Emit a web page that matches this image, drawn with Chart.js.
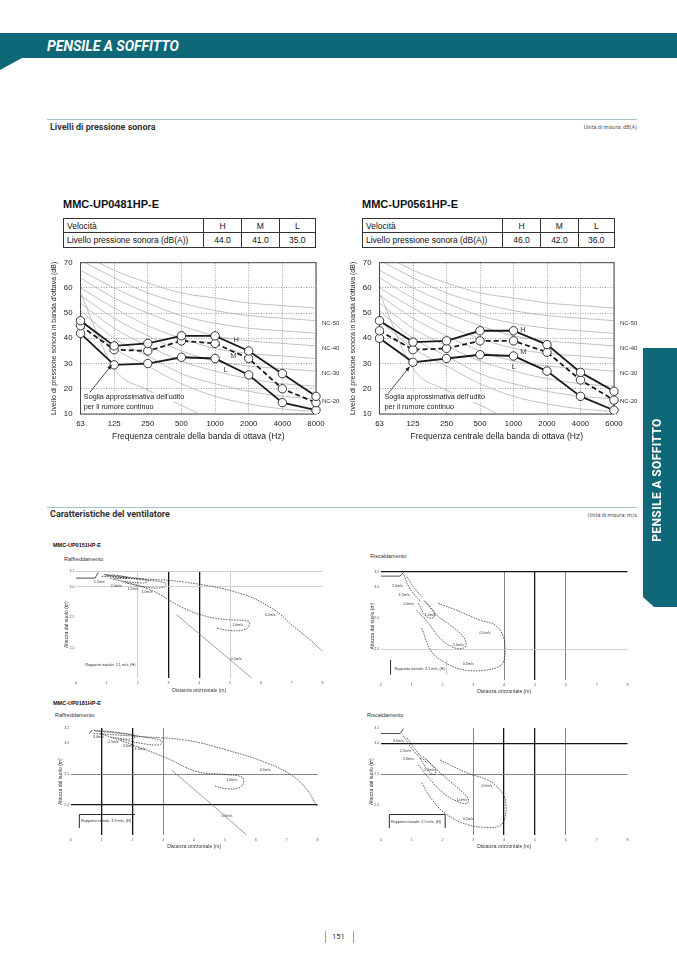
<!DOCTYPE html>
<html>
<head>
<meta charset="utf-8">
<script src="https://cdn.jsdelivr.net/npm/chart.js"></script>
<style>
  body { margin:0; width:677px; height:958px; position:relative; overflow:hidden; background:#fff;
         font-family:"Liberation Sans", Arial, sans-serif; color:#222; }
  .abs { position:absolute; white-space:nowrap; }
  canvas { position:absolute; }
  .bar { left:0; top:33px; width:677px; height:25px; background:#0e6878; }
  .corner { left:0; top:58px; width:0; height:0; border-top:12px solid #0e6878; border-right:22px solid transparent; }
  .hdr { left:47px; top:38px; font:italic 700 14px Roboto, sans-serif; color:#fff; line-height:16px; }
  .rule { left:47px; width:590px; height:1px; background:#a9c3ce; }
  .sec { left:50px; font:700 9px Roboto, sans-serif; color:#333; line-height:11px; }
  .unit { right:40px; font:5.5px Roboto, sans-serif; color:#555; line-height:7px; }
  .model { font:700 11px "Liberation Sans", Arial, sans-serif; line-height:12px; color:#111; }
  table.spl { position:absolute; border-collapse:collapse; width:253px; font-size:8.5px; color:#111; }
  table.spl td { border:1px solid #333; height:13.3px; padding:0; text-align:center; }
  table.spl td.lab { text-align:left; padding-left:3px; }
  .tab { left:643px; top:348px; width:34px; height:259px; background:#0e6878;
         clip-path:polygon(0 0,100% 0,100% 100%,11px 100%,0 calc(100% - 10px)); }
  .tabtxt { left:657px; top:480px; transform:translate(-50%,-50%) rotate(-90deg);
            font:700 12px Roboto, sans-serif; color:#fff; letter-spacing:0.4px; }
  .fmodel { font:700 5.5px "Liberation Sans", Arial, sans-serif; color:#111; line-height:7px; }
  .fmode { font:5.5px "Liberation Sans", Arial, sans-serif; color:#333; line-height:7px; }
  .pg { left:332px; top:932px; font:7.5px Roboto, sans-serif; color:#333; line-height:10px; }
  .pbar { top:931px; width:1px; height:12px; background:#d58d8d; }
</style>
</head>
<body>
<div class="abs bar"></div>
<div class="abs corner"></div>
<div class="abs hdr">PENSILE A SOFFITTO</div>

<div class="abs rule" style="top:119px"></div>
<div class="abs sec" style="top:121.5px">Livelli di pressione sonora</div>
<div class="abs unit" style="top:124px">Unità di misura: dB(A)</div>

<div class="abs model" style="left:63px;top:198px">MMC-UP0481HP-E</div>
<div class="abs model" style="left:362px;top:198px">MMC-UP0561HP-E</div>
<table class="spl" id="tab1" style="left:63px;top:218px"></table>
<table class="spl" id="tab2" style="left:362px;top:218px"></table>
<canvas id="noise1" width="310" height="195" style="left:40px;top:250px"></canvas>
<canvas id="noise2" width="310" height="195" style="left:339px;top:250px"></canvas>

<div class="abs rule" style="top:507px"></div>
<div class="abs sec" style="top:509px">Caratteristiche del ventilatore</div>
<div class="abs unit" style="top:512px">Unità di misura: m/s</div>

<div class="abs fmodel" style="left:53px;top:541.5px">MMC-UP0151HP-E</div>
<div class="abs fmode" style="left:64px;top:555.5px">Raffreddamento</div>
<div class="abs fmode" style="left:370px;top:552.5px">Riscaldamento</div>
<div class="abs fmodel" style="left:53px;top:700px">MMC-UP0181HP-E</div>
<div class="abs fmode" style="left:55px;top:712px">Raffreddamento</div>
<div class="abs fmode" style="left:367px;top:712px">Riscaldamento</div>
<canvas id="fanA" width="270" height="132" style="left:60px;top:565px"></canvas>
<canvas id="fanB" width="270" height="132" style="left:365px;top:565px"></canvas>
<canvas id="fanC" width="270" height="132" style="left:55px;top:722px"></canvas>
<canvas id="fanD" width="270" height="132" style="left:365px;top:722px"></canvas>

<div class="abs tab"></div>
<div class="abs tabtxt">PENSILE A SOFFITTO</div>

<div class="abs pbar" style="left:325px"></div>
<div class="abs pg">151</div>
<div class="abs pbar" style="left:353px"></div>

<script>
// ---- sound pressure data ----
var speeds = ['H', 'M', 'L'];
var dbaUP0481 = ['44.0', '41.0', '35.0'];
var dbaUP0561 = ['46.0', '42.0', '36.0'];

var freq1 = ['63', '125', '250', '500', '1000', '2000', '4000', '8000'];
var freq2 = ['63', '125', '250', '500', '1000', '2000', '4000', '6000'];

var up0481H = [47, 37, 38, 41, 41, 35, 26, 17];
var up0481M = [45, 35.5, 35, 39, 38, 32, 20, 14.5];
var up0481L = [42, 29.5, 30, 32.5, 32, 25.5, 14.5, 11.5];

var up0561H = [47, 38.5, 39, 43, 43, 37.5, 26.5, 19];
var up0561M = [43, 35.5, 36, 39, 39, 34.5, 23.5, 15.5];
var up0561L = [40, 30.5, 32, 33.5, 33, 27, 17, 11.5];

// NC reference curves
var nc15 = [47, 36, 29, 22, 17, 14, 12, 11];
var nc20 = [51, 40, 33, 26, 22, 19, 17, 16];
var nc25 = [54, 44, 37, 31, 27, 24, 22, 21];
var nc30 = [57, 48, 41, 35, 31, 29, 28, 27];
var nc35 = [60, 52, 45, 40, 36, 34, 33, 32];
var nc40 = [64, 56, 50, 45, 41, 39, 38, 37];
var nc45 = [67, 60, 54, 49, 46, 44, 43, 42];
var nc50 = [71, 64, 58, 54, 51, 49, 48, 47];
var nc55 = [74, 67, 62, 58, 56, 54, 53, 52];
var hearingLimit = [58, 28, 19.5, 13.5, 7, 2, 0, 0];

var ncNames = ['NC-50', 'NC-40', 'NC-30', 'NC-20'];
var ncLevels = [46, 36, 26, 15];

// ---- fan data (m) ----
var fanXTicks = [0, 1, 2, 3, 4, 5, 6, 7, 8];
var fanYTicks = [2.0, 2.5, 3.0, 3.25];

var a_unit = [{x:0,y:3.14},{x:0.62,y:3.14},{x:0.72,y:3.23}];
var a_v05 = [{x:0.83,y:3.17},{x:2.08,y:3.13},{x:3.59,y:3.07},{x:5.32,y:2.89},{x:6.4,y:2.63},{x:7.05,y:2.35},{x:7.59,y:2.13},{x:8.0,y:1.94}];
var a_v10 = [{x:1.1,y:3.14},{x:2.4,y:2.95},{x:3.48,y:2.65},{x:4.24,y:2.51},{x:4.89,y:2.46},{x:5.59,y:2.43},{x:5.62,y:2.36},{x:5.45,y:2.29},{x:4.99,y:2.28},{x:4.56,y:2.32}];
var a_v15 = [{x:1.0,y:3.18},{x:2.0,y:3.12},{x:2.9,y:3.06},{x:2.85,y:2.99},{x:2.3,y:2.99},{x:1.6,y:3.06}];
var a_v20 = [{x:0.95,y:3.19},{x:1.8,y:3.15},{x:2.35,y:3.1},{x:2.2,y:3.06},{x:1.5,y:3.09}];
var a_v25 = [{x:0.9,y:3.2},{x:1.4,y:3.18},{x:1.7,y:3.14},{x:1.2,y:3.13}];
var a_low = [{x:3.26,y:2.54},{x:5.7,y:1.5}];

var b_unit = [{x:0,y:3.18},{x:0.63,y:3.18},{x:0.74,y:3.24}];
var b_v05 = [{x:1.87,y:2.74},{x:2.46,y:2.63},{x:3.22,y:2.47},{x:3.71,y:2.39},{x:3.98,y:2.2},{x:4.03,y:1.99},{x:4.0,y:1.83},{x:3.87,y:1.73},{x:3.33,y:1.66},{x:2.68,y:1.67},{x:2.14,y:1.77},{x:1.65,y:1.96},{x:1.33,y:2.34}];
var b_v10 = [{x:1.17,y:2.63},{x:1.55,y:2.42},{x:1.92,y:2.18},{x:2.36,y:2.03},{x:2.68,y:2.02},{x:2.77,y:2.1},{x:2.63,y:2.23},{x:2.25,y:2.39},{x:1.82,y:2.55},{x:1.44,y:2.77}];
var b_v15 = [{x:1.22,y:2.74},{x:1.44,y:2.55},{x:1.65,y:2.5},{x:1.76,y:2.55},{x:1.65,y:2.66},{x:1.38,y:2.8}];
var b_v20 = [{x:0.75,y:3.2},{x:0.92,y:3.0},{x:1.2,y:2.82},{x:1.32,y:2.76}];
var b_v25 = [{x:0.85,y:3.17},{x:1.1,y:2.98},{x:1.35,y:2.85}];

var c_unit = [{x:0.6,y:3.16},{x:0.7,y:3.22}];
var c_v05 = [{x:0.74,y:3.16},{x:2.25,y:3.11},{x:3.76,y:3.05},{x:5.06,y:2.89},{x:6.36,y:2.68},{x:7.22,y:2.46},{x:7.65,y:2.25},{x:7.98,y:1.98}];
var c_v10 = [{x:0.95,y:3.16},{x:2.03,y:2.97},{x:3.11,y:2.76},{x:4.09,y:2.54},{x:5.06,y:2.49},{x:5.55,y:2.45},{x:5.6,y:2.35},{x:5.44,y:2.27},{x:5.06,y:2.26},{x:4.63,y:2.31}];
var c_v15 = [{x:0.8,y:3.2},{x:1.6,y:3.16},{x:2.3,y:3.11},{x:2.95,y:3.04},{x:2.9,y:2.98},{x:2.4,y:2.99},{x:1.6,y:3.07}];
var c_v20 = [{x:0.75,y:3.21},{x:1.5,y:3.18},{x:2.1,y:3.12},{x:1.9,y:3.07},{x:1.3,y:3.1}];
var c_low = [{x:3.28,y:2.56},{x:4.63,y:1.98},{x:5.69,y:1.51}];

var d_unit = [{x:0,y:3.16},{x:0.63,y:3.16},{x:0.74,y:3.24}];
var d_v05 = [{x:1.92,y:2.73},{x:2.79,y:2.52},{x:3.44,y:2.41},{x:3.76,y:2.3},{x:4.0,y:2.14},{x:4.06,y:1.98},{x:4.03,y:1.79},{x:3.87,y:1.66},{x:3.44,y:1.63},{x:2.79,y:1.68},{x:2.14,y:1.84},{x:1.65,y:2.09},{x:1.33,y:2.36}];
var d_v10 = [{x:1.22,y:2.65},{x:1.6,y:2.41},{x:2.03,y:2.19},{x:2.46,y:2.06},{x:2.79,y:2.02},{x:2.84,y:2.09},{x:2.68,y:2.19},{x:2.25,y:2.38},{x:1.82,y:2.57},{x:1.38,y:2.78}];
var d_v15 = [{x:1.28,y:2.76},{x:1.51,y:2.57},{x:1.73,y:2.49},{x:1.79,y:2.56},{x:1.65,y:2.65},{x:1.44,y:2.76}];
var d_v20 = [{x:0.74,y:3.12},{x:1.0,y:2.92},{x:1.33,y:2.73}];
var d_v25 = [{x:0.85,y:3.09},{x:1.17,y:2.87},{x:1.49,y:2.68}];

Chart.defaults.font.family = '"Liberation Sans", Arial, sans-serif';
Chart.defaults.color = '#222';

// tables
function fillTable(id, vals) {
  var t = document.getElementById(id);
  var r1 = '<tr><td class="lab" style="width:139px">Velocità</td>';
  var r2 = '<tr><td class="lab">Livello pressione sonora (dB(A))</td>';
  var w = [38, 37, 36];
  speeds.forEach(function (s, i) {
    r1 += '<td style="width:' + w[i] + 'px">' + s + '</td>';
    r2 += '<td>' + vals[i] + '</td>';
  });
  t.innerHTML = r1 + '</tr>' + r2 + '</tr>';
}
fillTable('tab1', dbaUP0481);
fillTable('tab2', dbaUP0561);

// NOISE CHARTS
function noiseChart(id, labels, H, M, L, padRight, tagPos) {
  var series = {
    borderColor: '#1a1a1a', borderWidth: 1.8, pointRadius: 4.2,
    pointBackgroundColor: '#fff', pointBorderColor: '#222', pointBorderWidth: 0.9, order: 1
  };
  var datasets = [
    Object.assign({ data: H }, series),
    Object.assign({ data: M, borderDash: [5, 3] }, series),
    Object.assign({ data: L }, series)
  ];
  [nc15, nc20, nc25, nc30, nc35, nc40, nc45, nc50, nc55, hearingLimit].forEach(function (c) {
    datasets.push({ data: c, borderColor: '#999', borderWidth: 0.6, pointRadius: 0,
                    cubicInterpolationMode: 'monotone', order: 5 });
  });

  var deco = {
    id: 'noiseDeco',
    beforeDatasetsDraw: function (chart) {
      var a = chart.chartArea, ctx = chart.ctx;
      ctx.save();
      ctx.strokeStyle = '#444';
      ctx.lineWidth = 1;
      ctx.strokeRect(a.left, a.top, a.right - a.left, a.bottom - a.top);
      ctx.restore();
    },
    afterDatasetsDraw: function (chart) {
      var ctx = chart.ctx, a = chart.chartArea, x = chart.scales.x, y = chart.scales.y;
      ctx.save();
      ctx.textBaseline = 'middle';
      // NC labels
      ctx.font = '6px "Liberation Sans"';
      ctx.fillStyle = '#333';
      ncNames.forEach(function (n, i) {
        ctx.fillText(n, a.right + 6, y.getPixelForValue(ncLevels[i]));
      });
      // H M L
      ctx.font = '7.5px "Liberation Sans"';
      ctx.fillStyle = '#444';
      speeds.forEach(function (s, i) {
        ctx.fillText(s, x.getPixelForValue(tagPos[i][0]), y.getPixelForValue(tagPos[i][1]));
      });
      // threshold note
      ctx.font = '7.2px "Liberation Sans"';
      var tx = x.getPixelForValue(tagPos[3][0]);
      var l1 = "Soglia approssimativa dell'udito", l2 = 'per il rumore continuo';
      var y1 = y.getPixelForValue(16.6), y2 = y.getPixelForValue(12.8);
      ctx.fillStyle = '#fff';
      ctx.fillRect(tx - 1, y1 - 4.5, ctx.measureText(l1).width + 2, 9);
      ctx.fillRect(tx - 1, y2 - 4.5, ctx.measureText(l2).width + 2, 8);
      ctx.fillStyle = '#222';
      ctx.fillText(l1, tx, y1);
      ctx.fillText(l2, tx, y2);
      // arrow
      var ax0 = x.getPixelForValue(tagPos[4][0]), ay0 = y.getPixelForValue(tagPos[4][1]);
      var ax1 = x.getPixelForValue(tagPos[5][0]), ay1 = y.getPixelForValue(tagPos[5][1]);
      ctx.strokeStyle = '#222';
      ctx.lineWidth = 0.8;
      ctx.beginPath(); ctx.moveTo(ax0, ay0); ctx.lineTo(ax1, ay1); ctx.stroke();
      var ang = Math.atan2(ay1 - ay0, ax1 - ax0);
      ctx.beginPath();
      ctx.moveTo(ax1, ay1);
      ctx.lineTo(ax1 - 5 * Math.cos(ang - 0.4), ay1 - 5 * Math.sin(ang - 0.4));
      ctx.lineTo(ax1 - 5 * Math.cos(ang + 0.4), ay1 - 5 * Math.sin(ang + 0.4));
      ctx.closePath();
      ctx.fillStyle = '#222';
      ctx.fill();
      ctx.restore();
    }
  };

  return new Chart(document.getElementById(id), {
    type: 'line',
    data: { labels: labels, datasets: datasets },
    options: {
      responsive: false,
      animation: false,
      events: [],
      layout: { padding: { top: 8, right: padRight, bottom: 0, left: 0 } },
      plugins: { legend: { display: false }, tooltip: { enabled: false } },
      scales: {
        x: {
          offset: false,
          grid: { color: '#8a8a8a', lineWidth: 0.8, drawTicks: false },
          border: { display: false, dash: [1, 1.5] },
          ticks: { padding: 5, font: { size: 7.8 }, maxRotation: 0, autoSkip: false, color: '#222' },
          title: { display: true, text: 'Frequenza centrale della banda di ottava (Hz)', font: { size: 8.5 },
                   color: '#222', padding: { top: 0, bottom: 3.4 } },
          afterFit: function (s) { s.height = 31; }
        },
        y: {
          min: 10, max: 70,
          grid: { color: '#8a8a8a', lineWidth: 0.8, drawTicks: false },
          border: { display: false, dash: [1, 1.5] },
          ticks: { stepSize: 10, padding: 8, font: { size: 7.8 }, color: '#222' },
          title: { display: true, text: "Livello di pressione sonora in banda d'ottava (dB)", font: { size: 7 },
                   color: '#222', padding: { top: 10, bottom: 0 } },
          afterFit: function (s) { s.width = 40.5; }
        }
      }
    },
    plugins: [deco]
  });
}

noiseChart('noise1', freq1, up0481H, up0481M, up0481L, 34,
  [[4.55, 39.5], [4.45, 33], [4.25, 27.3], [0.1], [0.28, 18.6], [0.93, 29.5]]);
noiseChart('noise2', freq2, up0561H, up0561M, up0561L, 35,
  [[4.2, 43.3], [4.2, 34.5], [3.95, 28.7], [0.15], [0.25, 18], [0.9, 28.8]]);

// FAN CHARTS
function fanChart(id, cfg) {
  var dashed = { borderColor: '#1e1e1e', borderWidth: 0.7, borderDash: [1.6, 1.1], pointRadius: 0, showLine: true, tension: 0.4 };
  var datasets = [];
  cfg.dashed.forEach(function (d) { datasets.push(Object.assign({ data: d }, dashed)); });
  cfg.solid.forEach(function (d) {
    datasets.push({ data: d, borderColor: '#777', borderWidth: 0.7, pointRadius: 0, showLine: true, tension: 0.3 });
  });
  datasets.push({ data: cfg.unit, borderColor: '#222', borderWidth: 0.8, pointRadius: 0, showLine: true, tension: 0 });

  function lineStyle(v, dark, mid, light) {
    if (dark.indexOf(v) >= 0) return ['#151515', 1.3];
    if (mid.indexOf(v) >= 0) return ['#777', 0.9];
    if (light.indexOf(v) >= 0) return ['#c4c4c4', 0.8];
    return ['rgba(0,0,0,0)', 0];
  }

  var deco = {
    id: 'fanDeco',
    afterDatasetsDraw: function (chart) {
      var ctx = chart.ctx, x = chart.scales.x, y = chart.scales.y;
      ctx.save();
      ctx.font = '3.6px "Liberation Sans"';
      ctx.fillStyle = '#333';
      ctx.textAlign = 'center';
      ctx.textBaseline = 'middle';
      cfg.tags.forEach(function (t) {
        ctx.fillText(t[2], x.getPixelForValue(t[0]), y.getPixelForValue(t[1]));
      });
      ctx.textAlign = 'left';
      ctx.font = '3.8px "Liberation Sans"';
      ctx.fillText(cfg.note, x.getPixelForValue(cfg.notePos[0]), y.getPixelForValue(cfg.notePos[1]));
      ctx.lineWidth = 0.9;
      cfg.box.forEach(function (b) {
        ctx.strokeStyle = b[4];
        ctx.beginPath();
        ctx.moveTo(x.getPixelForValue(b[0]), y.getPixelForValue(b[1]));
        ctx.lineTo(x.getPixelForValue(b[2]), y.getPixelForValue(b[3]));
        ctx.stroke();
      });
      ctx.restore();
    }
  };

  return new Chart(document.getElementById(id), {
    type: 'scatter',
    data: { datasets: datasets },
    options: {
      responsive: false,
      animation: false,
      events: [],
      layout: { padding: { top: cfg.padTop, right: 7.5, bottom: 0, left: 0 } },
      plugins: { legend: { display: false }, tooltip: { enabled: false } },
      scales: {
        x: {
          type: 'linear', min: 0, max: 8,
          afterBuildTicks: function (s) { s.ticks = fanXTicks.map(function (v) { return { value: v }; }); },
          grid: {
            drawTicks: false,
            color: function (c) { return lineStyle(c.tick.value, cfg.darkX, cfg.midX, cfg.lightX)[0]; },
            lineWidth: function (c) { return lineStyle(c.tick.value, cfg.darkX, cfg.midX, cfg.lightX)[1]; }
          },
          border: { display: false },
          ticks: { padding: cfg.tickPad, font: { size: 3.6 }, color: '#555' },
          title: { display: true, text: 'Distanza orizzontale (m)', font: { size: 5 }, color: '#333',
                   padding: { top: 0, bottom: cfg.titlePad } },
          afterFit: function (s) { s.height = cfg.xH; }
        },
        y: {
          type: 'linear', min: 1.5, max: 3.25,
          afterBuildTicks: function (s) { s.ticks = fanYTicks.map(function (v) { return { value: v }; }); },
          grid: {
            drawTicks: false,
            color: function (c) { return lineStyle(c.tick.value, cfg.darkY, cfg.midY, cfg.lightY)[0]; },
            lineWidth: function (c) { return lineStyle(c.tick.value, cfg.darkY, cfg.midY, cfg.lightY)[1]; }
          },
          border: { display: false },
          ticks: { padding: 1.5, font: { size: 3.6 }, color: '#555',
                   callback: function (v) { return (Math.floor(v * 10) / 10).toFixed(1); } },
          title: { display: true, text: 'Altezza dal suolo (m)', font: { size: 5 }, color: '#333',
                   padding: { top: cfg.yTitlePad, bottom: 0 } },
          afterFit: function (s) { s.width = cfg.yW; }
        }
      }
    },
    plugins: [deco]
  });
}

fanChart('fanA', {
  dashed: [a_v05, a_v10, a_v15, a_v20, a_v25], solid: [a_low], unit: a_unit,
  darkX: [3, 4], midX: [], lightX: [2, 5], darkY: [], midY: [], lightY: [3.0, 3.25],
  tags: [[0.75, 3.07, '2.5m/s'], [1.3, 3.01, '2.0m/s'], [1.85, 2.96, '1.5m/s'], [2.3, 2.92, '1.0m/s'],
         [6.3, 2.54, '0.5m/s'], [5.25, 2.37, '1.0m/s'], [5.2, 1.82, '0.5m/s']],
  note: 'Rapporto iniziale: 2.1 m/s, (H)', notePos: [0.3, 1.71], box: [],
  padTop: 6.4, yW: 16, xH: 19, tickPad: 3, titlePad: 3.1, yTitlePad: 4.1
});
fanChart('fanB', {
  dashed: [b_v05, b_v10, b_v15, b_v20, b_v25], solid: [], unit: b_unit,
  darkX: [5], midX: [4, 6], lightX: [], darkY: [3.25], midY: [], lightY: [2.0],
  tags: [[0.54, 3.02, '2.0m/s'], [0.76, 2.88, '1.5m/s'], [0.9, 2.73, '1.0m/s'], [1.6, 2.56, '1.0m/s'],
         [3.38, 2.27, '0.5m/s'], [2.52, 2.07, '1.0m/s'], [2.84, 1.77, '0.5m/s']],
  note: 'Rapporto iniziale: 2.1 m/s, (H)', notePos: [0.45, 1.69],
  box: [[0.32, 1.59, 0.32, 1.83, '#111'], [2.14, 1.59, 2.14, 1.83, '#bbb']],
  padTop: 6.8, yW: 15.7, xH: 16.7, tickPad: 3, titlePad: 2.1, yTitlePad: 5.1
});
fanChart('fanC', {
  dashed: [c_v05, c_v10, c_v15, c_v20], solid: [c_low], unit: c_unit,
  darkX: [1, 2], midX: [3], lightX: [], darkY: [2.0], midY: [2.5], lightY: [],
  tags: [[0.9, 3.1, '3.0m/s'], [1.38, 3.03, '2.5m/s'], [1.87, 2.96, '2.0m/s'], [2.25, 2.9, '1.5m/s'],
         [6.3, 2.56, '0.5m/s'], [5.22, 2.4, '1.0m/s'], [5.06, 1.82, '0.5m/s']],
  note: 'Rapporto iniziale: 3.3 m/s, (H)', notePos: [0.33, 1.74],
  box: [[0.28, 1.84, 2.09, 1.84, '#111'], [0.28, 1.84, 0.28, 1.62, '#111']],
  padTop: 6, yW: 15.7, xH: 18.6, tickPad: 2, titlePad: 4.1, yTitlePad: 2.8
});
fanChart('fanD', {
  dashed: [d_v05, d_v10, d_v15, d_v20, d_v25], solid: [], unit: d_unit,
  darkX: [4, 5], midX: [3, 6], lightX: [], darkY: [3.0], midY: [2.5], lightY: [],
  tags: [[0.57, 3.04, '3.0m/s'], [0.79, 2.87, '2.5m/s'], [0.9, 2.74, '2.0m/s'], [1.58, 2.56, '1.5m/s'],
         [3.44, 2.31, '0.5m/s'], [2.63, 2.08, '1.0m/s'], [2.84, 1.77, '0.5m/s']],
  note: 'Rapporto iniziale: 2.5 m/s, (H)', notePos: [0.33, 1.72],
  box: [[0.28, 1.84, 2.09, 1.84, '#111'], [0.28, 1.84, 0.28, 1.62, '#111'], [2.09, 1.84, 2.09, 1.62, '#111']],
  padTop: 6, yW: 15.7, xH: 18.6, tickPad: 2, titlePad: 4.1, yTitlePad: 3.8
});
</script>
</body>
</html>
